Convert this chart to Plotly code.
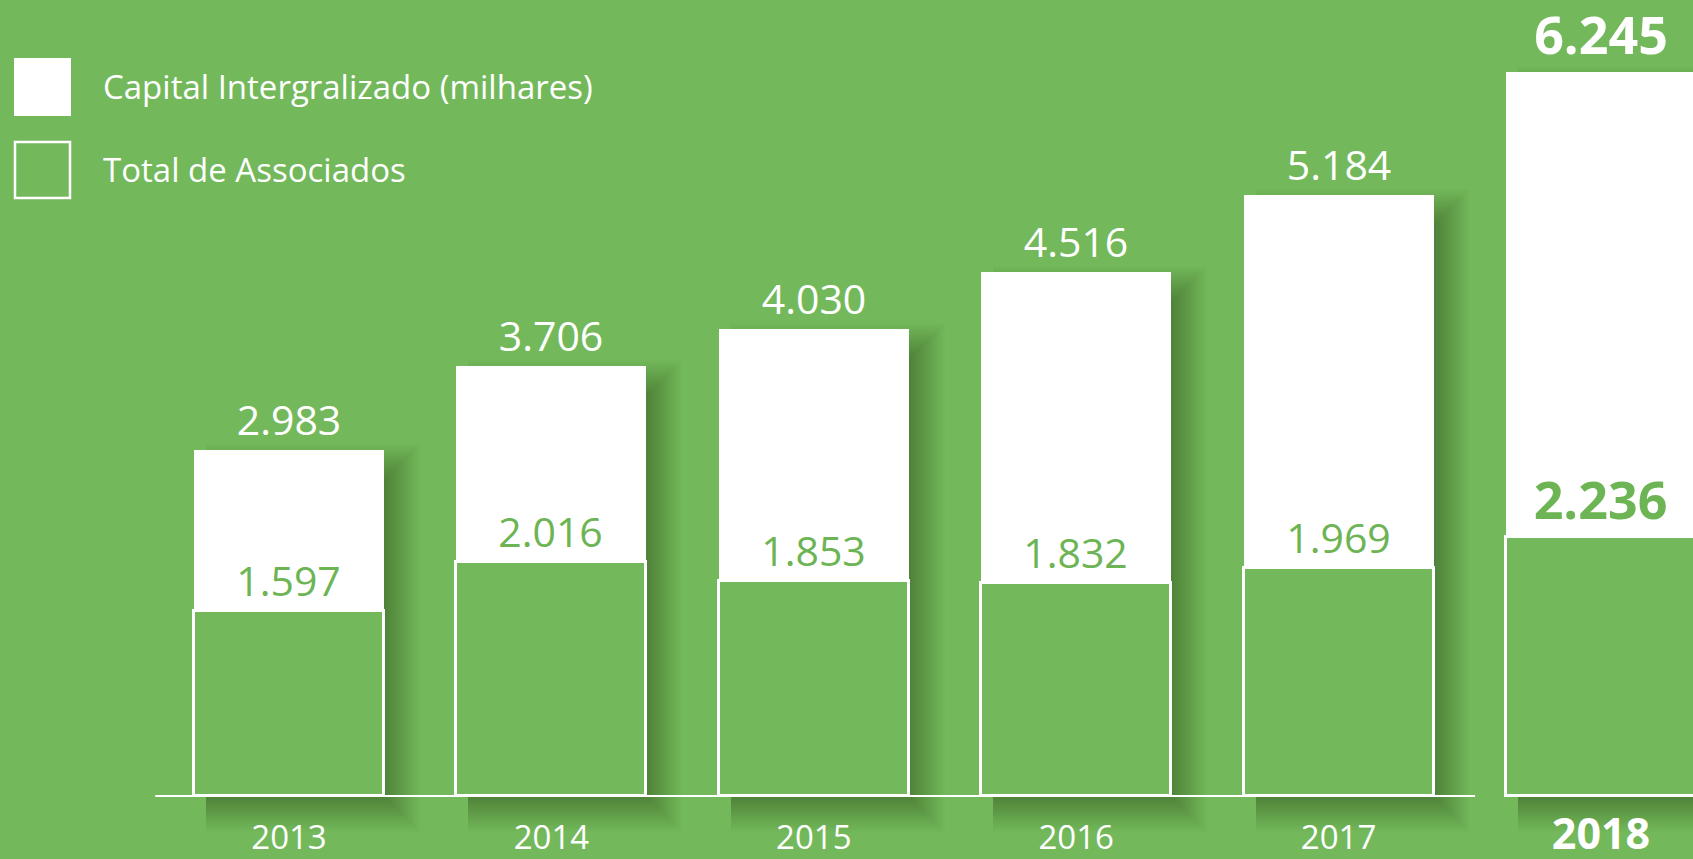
import plotly.graph_objects as go

# ---- data ----
years = ["2013", "2014", "2015", "2016", "2017", "2018"]
capital = [2983, 3706, 4030, 4516, 5184, 6245]        # Capital Integralizado (milhares)
associados = [1597, 2016, 1853, 1832, 1969, 2236]     # Total de Associados
series_names = ["Capital Intergralizado (milhares)", "Total de Associados"]

# ---- styling / geometry ----
BG = "#73b95b"
GREEN_TXT = "#6db454"
W, H = 1693, 859
PX_PER_CAT = 262.4      # horizontal pixels per category
PX_PER_UNIT = 0.116     # vertical pixels per value unit
X0_PX = 289             # pixel x of first category centre
BASE_PX = 796           # pixel y of the baseline

x_lo = -X0_PX / PX_PER_CAT
x_hi = x_lo + W / PX_PER_CAT
y_lo = -(H - BASE_PX) / PX_PER_UNIT
y_hi = BASE_PX / PX_PER_UNIT
bw = 190 / PX_PER_CAT


def fmt(v):
    return f"{v:,}".replace(",", ".")


last = len(years) - 1
cap_text = [fmt(v) if i < last else f"<b>{fmt(v)}</b>" for i, v in enumerate(capital)]
ass_text = [fmt(v) if i < last else f"<b>{fmt(v)}</b>" for i, v in enumerate(associados)]
lbl_sizes = [41 if i < last else 52 for i in range(len(years))]
tick_text = [y if i < last else f"<b><span style='font-size:43px'>{y}</span></b>" for i, y in enumerate(years)]

fig = go.Figure()

# soft drop shadow to the lower right (stacked translucent layers)
inset = 12 / PX_PER_CAT
dy = 30 / PX_PER_UNIT
for s_px in range(0, 37, 2):
    sx = s_px / PX_PER_CAT
    sy = s_px / PX_PER_UNIT
    w = bw - inset + sx
    fig.add_trace(go.Bar(
        x=years, y=[v - dy + 2 * sy for v in capital], base=-sy,
        width=w, offset=-bw / 2 + inset,
        marker=dict(color="rgba(0,0,0,0.016)", line=dict(width=0)),
        hoverinfo="skip", showlegend=False,
    ))

fig.add_trace(go.Bar(
    x=years, y=capital, name=series_names[0], width=bw,
    marker=dict(color="white", line=dict(width=0)),
    text=cap_text, textposition="outside", constraintext="none",
    textfont=dict(color="white", size=lbl_sizes, family="Open Sans"),
    cliponaxis=False, showlegend=False,
))
fig.add_trace(go.Bar(
    x=years, y=associados, name=series_names[1], width=bw,
    marker=dict(color=BG, line=dict(color="white", width=3)),
    text=ass_text, textposition="outside", constraintext="none",
    textfont=dict(color=GREEN_TXT, size=lbl_sizes, family="Open Sans"),
    cliponaxis=False, showlegend=False,
))


def px(xp):
    return xp / W


def py(yp):
    return 1 - yp / H


shapes = [
    # baseline
    dict(type="line", xref="x", yref="y", x0=-0.51, x1=len(years) - 1.48, y0=0, y1=0,
         line=dict(color="white", width=2), layer="above"),
    # legend swatches
    dict(type="rect", xref="paper", yref="paper", x0=px(14), x1=px(71), y0=py(116), y1=py(58),
         fillcolor="white", line=dict(width=0)),
    dict(type="rect", xref="paper", yref="paper", x0=px(15), x1=px(70), y0=py(198), y1=py(142),
         fillcolor="rgba(0,0,0,0)", line=dict(color="white", width=2.5)),
]
annotations = [
    dict(text=series_names[0], xref="paper", yref="paper", x=px(101), y=py(86),
         xanchor="left", yanchor="middle", showarrow=False,
         font=dict(color="white", size=33, family="Open Sans")),
    dict(text=series_names[1], xref="paper", yref="paper", x=px(101), y=py(169),
         xanchor="left", yanchor="middle", showarrow=False,
         font=dict(color="white", size=33, family="Open Sans")),
]

fig.update_layout(
    width=W, height=H, autosize=False,
    margin=dict(l=0, r=0, t=0, b=0, pad=0, autoexpand=False),
    paper_bgcolor=BG, plot_bgcolor=BG,
    barmode="overlay", bargap=0,
    shapes=shapes, annotations=annotations,
    xaxis=dict(type="category", range=[x_lo, x_hi], tickmode="array", tickvals=years, ticktext=tick_text,
               ticklabelposition="inside", ticklabelstandoff=0, ticks="", showgrid=False,
               zeroline=False, showline=False, automargin=False,
               tickfont=dict(color="white", size=33, family="Open Sans"), fixedrange=True),
    yaxis=dict(range=[y_lo, y_hi], visible=False, showgrid=False, zeroline=False,
               automargin=False, fixedrange=True),
    font=dict(family="Open Sans", color="white"),
    showlegend=False,
)

fig.write_html("out.html", config={"displayModeBar": False},
               post_script="document.body.style.margin='0';document.body.style.overflow='hidden';")
